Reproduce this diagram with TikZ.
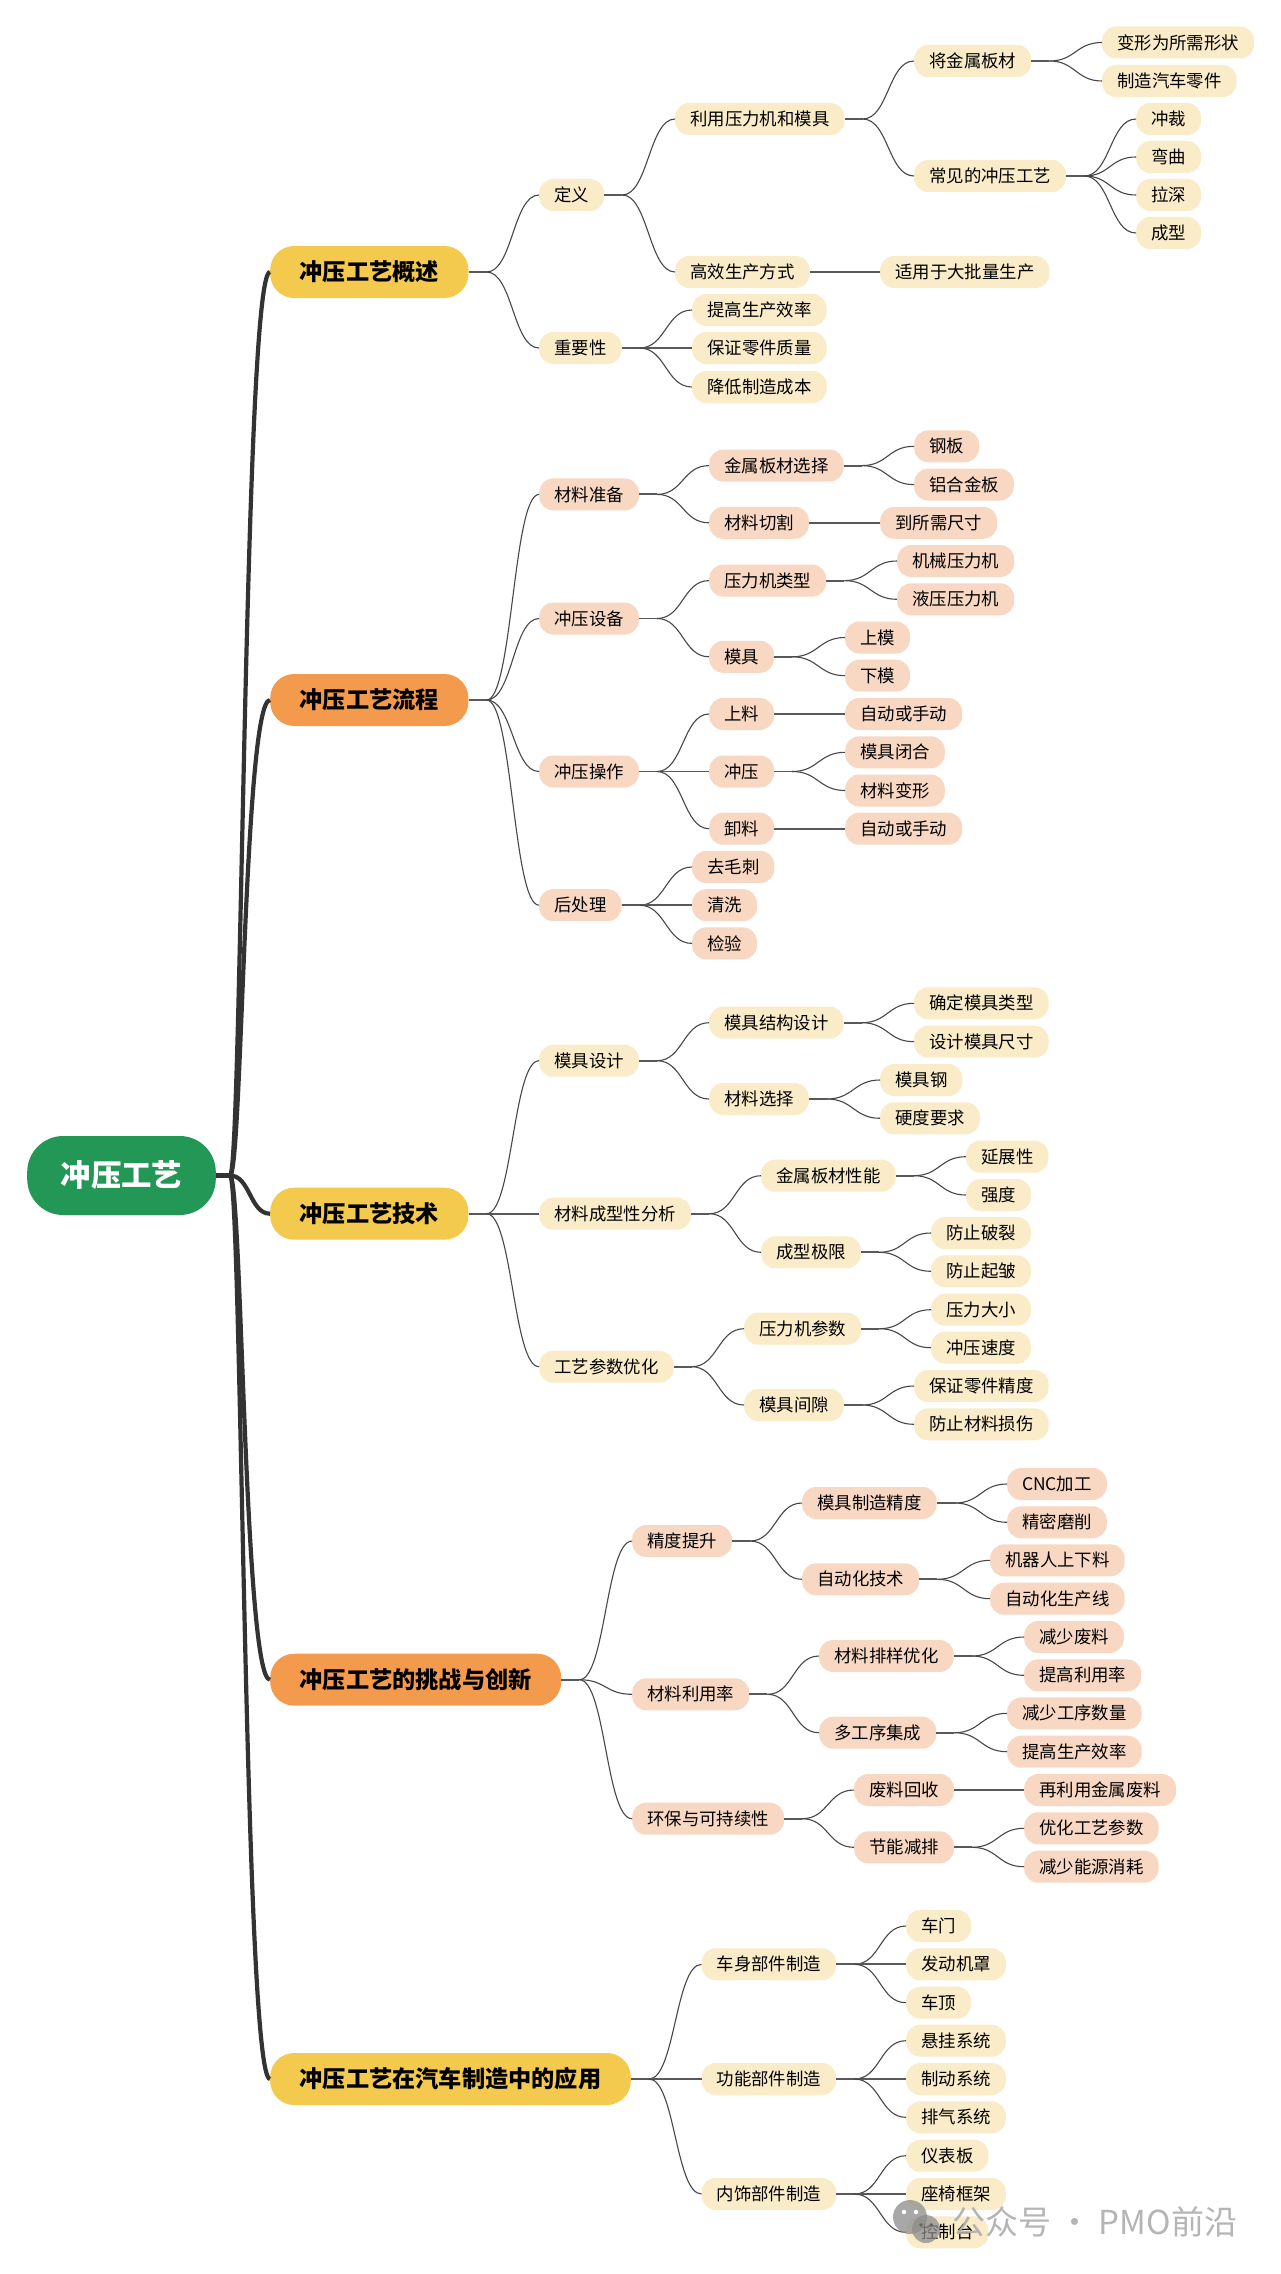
\documentclass[tikz,border=0pt]{standalone}
\usepackage{fontspec}
\newfontfamily\cjk{Noto Sans CJK SC}
\definecolor{cream}{HTML}{FAECC9}
\definecolor{peach}{HTML}{F9D8C3}
\definecolor{ytop}{HTML}{F3C94E}
\definecolor{otop}{HTML}{F49A4D}
\definecolor{rootg}{HTML}{239755}
\tikzset{
 leaf/.style={rounded corners=14pt,inner xsep=15pt,inner ysep=0pt,minimum height=32pt,text=black,font=\cjk\fontsize{17.4}{20}\selectfont},
 lc/.style={leaf,fill=cream},
 lp/.style={leaf,fill=peach},
 topn/.style={rounded corners=24pt,inner xsep=29.5pt,inner ysep=0pt,minimum height=52pt,text=black,font=\cjk\bfseries\fontsize{23.2}{27}\selectfont},
 ty/.style={topn,fill=ytop},
 torg/.style={topn,fill=otop},
 rootn/.style={rounded corners=36pt,inner xsep=33.5pt,inner ysep=0pt,minimum height=79pt,text=white,fill=rootg,font=\cjk\bfseries\fontsize{30.4}{35}\selectfont},
 cv/.style={draw=black!72,line width=1.1pt},
 st/.style={draw=black!65,line width=1.9pt},
 thk/.style={draw=black!80,line width=4.2pt},
}
\newcommand\mkN[5]{\node[#1,anchor=west] (#2) at (#3,#4) {#5};}
\newcommand\mkC[2]{\draw[st] (#1.east) -- ++(18,0) coordinate (j); \draw[cv] (j) .. controls +(26,0) and +(-26,0) .. (#2.west);}
\newcommand\mkS[2]{\draw[st] (#1.east) -- (#2.west);}
\newcommand\mkT[1]{\draw[thk] (jr) .. controls +(12,0) and +(-26,0) .. (#1.west);}
\begin{document}
\begin{tikzpicture}[x=1pt,y=-1pt]
\useasboundingbox (0,0) rectangle (1280,2274);
\fill[white] (0,0) rectangle (1280,2274);
% root and top level
\mkN{rootn}{root}{27}{1175.5}{冲压工艺}
\mkN{ty}{t1}{270}{272}{冲压工艺概述}
\mkN{torg}{t2}{270}{700}{冲压工艺流程}
\mkN{ty}{t3}{270}{1213.7}{冲压工艺技术}
\mkN{torg}{t4}{270}{1679.7}{冲压工艺的挑战与创新}
\mkN{ty}{t5}{270}{2079}{冲压工艺在汽车制造中的应用}
% section 1
\mkN{lc}{a1}{539}{195}{定义}
\mkN{lc}{a2}{539}{348}{重要性}
\mkN{lc}{a11}{675}{119}{利用压力机和模具}
\mkN{lc}{a12}{675}{272}{高效生产方式}
\mkN{lc}{a121}{880}{272}{适用于大批量生产}
\mkN{lc}{a111}{914}{61}{将金属板材}
\mkN{lc}{a112}{914}{176}{常见的冲压工艺}
\mkN{lc}{a1111}{1102}{42.5}{变形为所需形状}
\mkN{lc}{a1112}{1102}{81}{制造汽车零件}
\mkN{lc}{a1121}{1136}{119}{冲裁}
\mkN{lc}{a1122}{1136}{157}{弯曲}
\mkN{lc}{a1123}{1136}{195}{拉深}
\mkN{lc}{a1124}{1136}{233}{成型}
\mkN{lc}{a21}{692}{310}{提高生产效率}
\mkN{lc}{a22}{692}{348}{保证零件质量}
\mkN{lc}{a23}{692}{387}{降低制造成本}
% section 2
\mkN{lp}{b1}{539}{494.4}{材料准备}
\mkN{lp}{b2}{539}{618.5}{冲压设备}
\mkN{lp}{b3}{539}{771.5}{冲压操作}
\mkN{lp}{b4}{539}{905.2}{后处理}
\mkN{lp}{b11}{709}{465.6}{金属板材选择}
\mkN{lp}{b12}{709}{522.8}{材料切割}
\mkN{lp}{b21}{709}{580.6}{压力机类型}
\mkN{lp}{b22}{709}{656.8}{模具}
\mkN{lp}{b31}{709}{714}{上料}
\mkN{lp}{b32}{709}{771.5}{冲压}
\mkN{lp}{b33}{709}{828.7}{卸料}
\mkN{lp}{b111}{914}{446.3}{钢板}
\mkN{lp}{b112}{914}{484.6}{铝合金板}
\mkN{lp}{b121}{880}{522.8}{到所需尺寸}
\mkN{lp}{b211}{897}{561}{机械压力机}
\mkN{lp}{b212}{897}{599.3}{液压压力机}
\mkN{lp}{b221}{845}{637.5}{上模}
\mkN{lp}{b222}{845}{675.7}{下模}
\mkN{lp}{b311}{845}{714}{自动或手动}
\mkN{lp}{b321}{845}{752.3}{模具闭合}
\mkN{lp}{b322}{845}{790.5}{材料变形}
\mkN{lp}{b331}{845}{828.7}{自动或手动}
\mkN{lp}{b41}{692}{867}{去毛刺}
\mkN{lp}{b42}{692}{905.2}{清洗}
\mkN{lp}{b43}{692}{943.4}{检验}
% section 3
\mkN{lc}{c1}{539}{1060.7}{模具设计}
\mkN{lc}{c2}{539}{1213.7}{材料成型性分析}
\mkN{lc}{c3}{539}{1366.7}{工艺参数优化}
\mkN{lc}{c11}{709}{1022.7}{模具结构设计}
\mkN{lc}{c12}{709}{1099}{材料选择}
\mkN{lc}{c21}{761}{1175.7}{金属板材性能}
\mkN{lc}{c22}{761}{1252.3}{成型极限}
\mkN{lc}{c31}{744}{1328.7}{压力机参数}
\mkN{lc}{c32}{744}{1405}{模具间隙}
\mkN{lc}{c111}{914}{1003.3}{确定模具类型}
\mkN{lc}{c112}{914}{1041.7}{设计模具尺寸}
\mkN{lc}{c121}{880}{1080}{模具钢}
\mkN{lc}{c122}{880}{1118.3}{硬度要求}
\mkN{lc}{c211}{966}{1156.7}{延展性}
\mkN{lc}{c212}{966}{1195}{强度}
\mkN{lc}{c221}{931}{1233}{防止破裂}
\mkN{lc}{c222}{931}{1271.3}{防止起皱}
\mkN{lc}{c311}{931}{1309.7}{压力大小}
\mkN{lc}{c312}{931}{1347.7}{冲压速度}
\mkN{lc}{c321}{914}{1386}{保证零件精度}
\mkN{lc}{c322}{914}{1424.3}{防止材料损伤}
% section 4
\mkN{lp}{d1}{632}{1541}{精度提升}
\mkN{lp}{d2}{632}{1694.3}{材料利用率}
\mkN{lp}{d3}{632}{1818.7}{环保与可持续性}
\mkN{lp}{d11}{802}{1503}{模具制造精度}
\mkN{lp}{d12}{802}{1579.3}{自动化技术}
\mkN{lp}{d21}{819}{1656}{材料排样优化}
\mkN{lp}{d22}{819}{1732.7}{多工序集成}
\mkN{lp}{d31}{854}{1790}{废料回收}
\mkN{lp}{d32}{854}{1847.3}{节能减排}
\mkN{lp}{d111}{1007}{1484}{CNC加工}
\mkN{lp}{d112}{1007}{1522.3}{精密磨削}
\mkN{lp}{d121}{990}{1560.3}{机器人上下料}
\mkN{lp}{d122}{990}{1598.7}{自动化生产线}
\mkN{lp}{d211}{1024}{1637}{减少废料}
\mkN{lp}{d212}{1024}{1675.3}{提高利用率}
\mkN{lp}{d221}{1007}{1713.3}{减少工序数量}
\mkN{lp}{d222}{1007}{1751.7}{提高生产效率}
\mkN{lp}{d311}{1024}{1790}{再利用金属废料}
\mkN{lp}{d321}{1024}{1828.3}{优化工艺参数}
\mkN{lp}{d322}{1024}{1866.7}{减少能源消耗}
% section 5
\mkN{lc}{e1}{701.5}{1964.3}{车身部件制造}
\mkN{lc}{e2}{701.5}{2079}{功能部件制造}
\mkN{lc}{e3}{701.5}{2194}{内饰部件制造}
\mkN{lc}{e11}{906}{1926}{车门}
\mkN{lc}{e12}{906}{1964.3}{发动机罩}
\mkN{lc}{e13}{906}{2002.7}{车顶}
\mkN{lc}{e21}{906}{2040.7}{悬挂系统}
\mkN{lc}{e22}{906}{2079}{制动系统}
\mkN{lc}{e23}{906}{2117.3}{排气系统}
\mkN{lc}{e31}{906}{2155.7}{仪表板}
\mkN{lc}{e32}{906}{2194}{座椅框架}
\mkN{lc}{e33}{906}{2232.3}{控制台}
% connectors
\draw[thk] (root.east) -- ++(14,0) coordinate (jr);
\mkT{t1}\mkT{t2}\mkT{t4}\mkT{t5}
\draw[thk] (jr) .. controls +(20,0) and +(-20,0) .. (t3.west);
\mkC{t1}{a1}\mkC{t1}{a2}
\mkC{a1}{a11}\mkC{a1}{a12}\mkS{a12}{a121}
\mkC{a11}{a111}\mkC{a11}{a112}
\mkC{a111}{a1111}\mkC{a111}{a1112}
\mkC{a112}{a1121}\mkC{a112}{a1122}\mkC{a112}{a1123}\mkC{a112}{a1124}
\mkC{a2}{a21}\mkS{a2}{a22}\mkC{a2}{a23}
\mkC{t2}{b1}\mkC{t2}{b2}\mkC{t2}{b3}\mkC{t2}{b4}
\mkC{b1}{b11}\mkC{b1}{b12}\mkC{b11}{b111}\mkC{b11}{b112}\mkS{b12}{b121}
\mkC{b2}{b21}\mkC{b2}{b22}\mkC{b21}{b211}\mkC{b21}{b212}\mkC{b22}{b221}\mkC{b22}{b222}
\mkC{b3}{b31}\mkS{b3}{b32}\mkC{b3}{b33}\mkS{b31}{b311}\mkC{b32}{b321}\mkC{b32}{b322}\mkS{b33}{b331}
\mkC{b4}{b41}\mkS{b4}{b42}\mkC{b4}{b43}
\mkC{t3}{c1}\mkS{t3}{c2}\mkC{t3}{c3}
\mkC{c1}{c11}\mkC{c1}{c12}\mkC{c11}{c111}\mkC{c11}{c112}\mkC{c12}{c121}\mkC{c12}{c122}
\mkC{c2}{c21}\mkC{c2}{c22}\mkC{c21}{c211}\mkC{c21}{c212}\mkC{c22}{c221}\mkC{c22}{c222}
\mkC{c3}{c31}\mkC{c3}{c32}\mkC{c31}{c311}\mkC{c31}{c312}\mkC{c32}{c321}\mkC{c32}{c322}
\mkC{t4}{d1}\mkC{t4}{d2}\mkC{t4}{d3}
\mkC{d1}{d11}\mkC{d1}{d12}\mkC{d11}{d111}\mkC{d11}{d112}\mkC{d12}{d121}\mkC{d12}{d122}
\mkC{d2}{d21}\mkC{d2}{d22}\mkC{d21}{d211}\mkC{d21}{d212}\mkC{d22}{d221}\mkC{d22}{d222}
\mkC{d3}{d31}\mkC{d3}{d32}\mkS{d31}{d311}\mkC{d32}{d321}\mkC{d32}{d322}
\mkC{t5}{e1}\mkS{t5}{e2}\mkC{t5}{e3}
\mkC{e1}{e11}\mkS{e1}{e12}\mkC{e1}{e13}
\mkC{e2}{e21}\mkS{e2}{e22}\mkC{e2}{e23}
\mkC{e3}{e31}\mkS{e3}{e32}\mkC{e3}{e33}
% watermark
\begin{scope}[opacity=.75]
\fill[black!45] (910,2217) circle (17);
\fill[black!45] (926,2229) circle (14);
\end{scope}
\fill[white] (904,2212) circle (2.2);
\fill[white] (916,2212) circle (2.2);
\fill[black!60] (921,2225) circle (1.8);
\fill[black!60] (931,2225) circle (1.8);
\node[anchor=west,inner sep=0pt,text=black!32,opacity=.9,font=\cjk\fontsize{33}{38}\selectfont] (wm) at (952,2222) {公众号 · PMO前沿};
\end{tikzpicture}
\end{document}
